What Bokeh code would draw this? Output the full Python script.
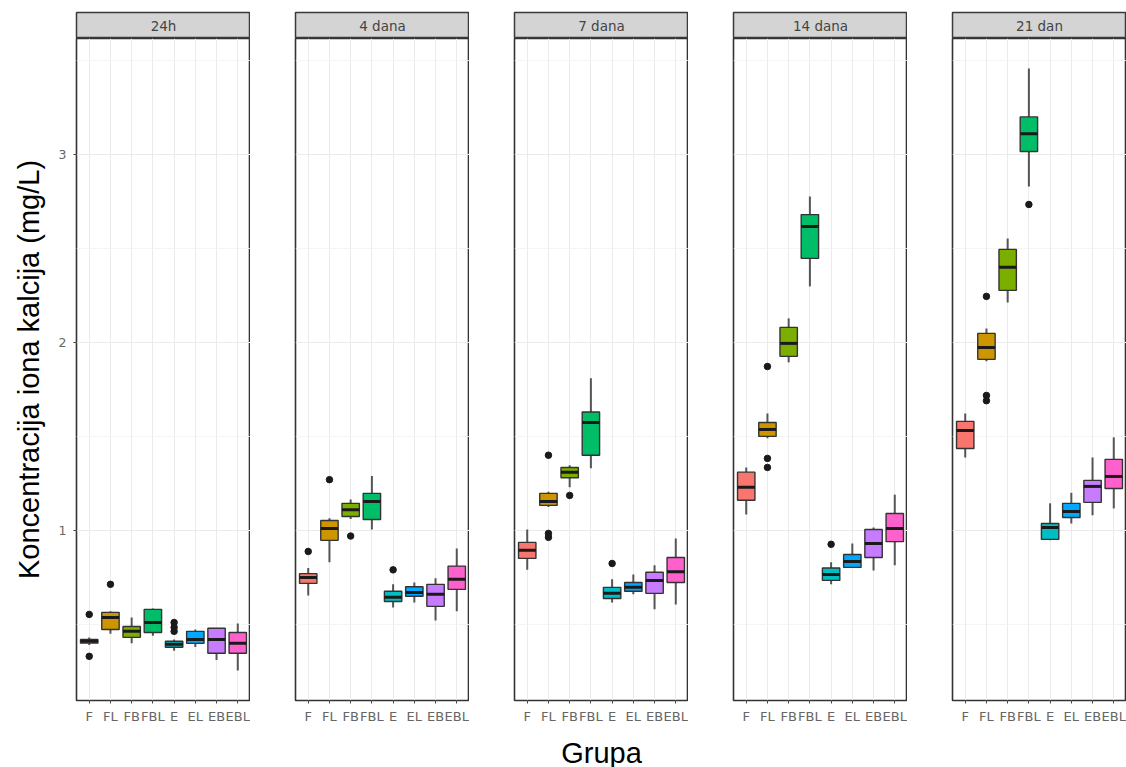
from bokeh.plotting import figure
from bokeh.layouts import gridplot
from bokeh.models import (ColumnDataSource, FactorRange, Range1d, FixedTicker, Grid)
from bokeh.transform import dodge
from bokeh.core.properties import value
from bokeh.embed import file_html
from bokeh.resources import INLINE

# Facets (time points) and groups
facets = ["24h", "4 dana", "7 dana", "14 dana", "21 dan"]
groups = ["F", "FL", "FB", "FBL", "E", "EL", "EB", "EBL"]
colors = ["#F8766D", "#CD9600", "#7CAE00", "#00BE67",
          "#00BFC4", "#00A9FF", "#C77CFF", "#FF61CC"]

# Box statistics, one row per facet, one value per group
whisker_low = [
    [0.39, 0.45, 0.40, 0.44, 0.36, 0.38, 0.31, 0.255],
    [0.654, 0.83, 1.06, 1.005, 0.59, 0.617, 0.52, 0.57],
    [0.79, 1.125, 1.23, 1.33, 0.617, 0.66, 0.58, 0.606],
    [1.085, 1.49, 1.894, 2.298, 0.713, 0.80, 0.787, 0.814],
    [1.388, 1.90, 2.213, 2.83, 0.947, 1.037, 1.08, 1.117],
]
q1 = [
    [0.40, 0.473, 0.431, 0.457, 0.378, 0.399, 0.346, 0.346],
    [0.718, 0.947, 1.074, 1.058, 0.622, 0.65, 0.596, 0.686],
    [0.851, 1.133, 1.28, 1.40, 0.638, 0.676, 0.665, 0.723],
    [1.16, 1.50, 1.926, 2.447, 0.734, 0.803, 0.856, 0.94],
    [1.436, 1.91, 2.277, 3.016, 0.952, 1.069, 1.149, 1.223],
]
median = [
    [0.41, 0.537, 0.463, 0.51, 0.394, 0.42, 0.42, 0.40],
    [0.75, 1.01, 1.11, 1.154, 0.644, 0.67, 0.66, 0.74],
    [0.894, 1.154, 1.31, 1.574, 0.665, 0.697, 0.734, 0.78],
    [1.229, 1.537, 1.995, 2.617, 0.766, 0.835, 0.93, 1.01],
    [1.532, 1.973, 2.40, 3.11, 1.016, 1.10, 1.234, 1.287],
]
q3 = [
    [0.42, 0.564, 0.489, 0.58, 0.41, 0.463, 0.479, 0.457],
    [0.77, 1.053, 1.144, 1.197, 0.676, 0.70, 0.713, 0.81],
    [0.936, 1.197, 1.335, 1.63, 0.697, 0.723, 0.777, 0.856],
    [1.31, 1.574, 2.08, 2.68, 0.80, 0.872, 1.005, 1.09],
    [1.58, 2.048, 2.495, 3.20, 1.037, 1.144, 1.266, 1.378],
]
whisker_high = [
    [0.43, 0.57, 0.537, 0.585, 0.42, 0.473, 0.48, 0.505],
    [0.80, 1.064, 1.165, 1.29, 0.713, 0.723, 0.745, 0.904],
    [1.005, 1.205, 1.346, 1.81, 0.74, 0.766, 0.814, 0.957],
    [1.335, 1.622, 2.128, 2.777, 0.83, 0.93, 1.016, 1.19],
    [1.622, 2.074, 2.553, 3.457, 1.144, 1.20, 1.388, 1.495],
]

# Outlying points
outlier_facet = ["24h", "24h", "24h", "24h", "24h", "24h",
                 "4 dana", "4 dana", "4 dana", "4 dana",
                 "7 dana", "7 dana", "7 dana", "7 dana", "7 dana",
                 "14 dana", "14 dana", "14 dana", "14 dana",
                 "21 dan", "21 dan", "21 dan", "21 dan"]
outlier_group = ["F", "F", "FL", "E", "E", "E",
                 "F", "FL", "FB", "E",
                 "FL", "FL", "FL", "FB", "E",
                 "FL", "FL", "FL", "E",
                 "FL", "FL", "FL", "FBL"]
outlier_value = [0.553, 0.33, 0.713, 0.51, 0.484, 0.463,
                 0.888, 1.27, 0.97, 0.79,
                 1.40, 0.984, 0.963, 1.186, 0.824,
                 1.872, 1.383, 1.335, 0.926,
                 2.245, 1.718, 1.69, 2.734]

y_ticks = [1, 2, 3]
y_minor = [0.5, 1.5, 2.5, 3.5]
y_limits = (0.095, 3.617)

FRAME_W = 174
TICK_FONT = value("DejaVu Sans")
TITLE_FONT = "Liberation Sans"
TICK_COLOR = "#666666"

strips, panels = [], []
for i, facet in enumerate(facets):
    left = 76 if i == 0 else 45

    # facet strip
    s = figure(frame_width=FRAME_W, frame_height=26,
               x_range=Range1d(0, 1), y_range=Range1d(0, 1),
               x_axis_location=None, y_axis_location=None,
               output_backend="svg", toolbar_location=None,
               min_border_left=left, min_border_right=0,
               min_border_top=12, min_border_bottom=0)
    s.grid.visible = False
    s.background_fill_color = "#D4D4D4"
    s.outline_line_color = "#3A3A3A"
    s.outline_line_width = 1.5
    s.text(x=[0.5], y=[0.5], text=[facet], text_align="center",
           text_baseline="middle", text_font=TICK_FONT,
           text_font_size="13.5px", text_color="#444444")
    strips.append(s)

    # boxplot panel
    p = figure(frame_width=FRAME_W, frame_height=662,
               x_range=FactorRange(factors=groups, range_padding=0.1,
                                   range_padding_units="absolute"),
               y_range=Range1d(*y_limits),
               y_axis_location="left" if i == 0 else None,
               output_backend="svg", toolbar_location=None,
               min_border_left=left, min_border_right=0,
               min_border_top=0, min_border_bottom=67)
    p.background_fill_color = "white"
    p.outline_line_color = "#333333"
    p.outline_line_width = 1.6

    for g in p.ygrid:
        g.visible = False
    yticker = FixedTicker(ticks=y_ticks, minor_ticks=y_minor)
    p.add_layout(Grid(dimension=1, ticker=yticker,
                      grid_line_color="#EBEBEB", grid_line_width=1.2,
                      minor_grid_line_color="#F2F2F2",
                      minor_grid_line_width=0.8), "center")
    p.xgrid.grid_line_color = "#EBEBEB"
    p.xgrid.grid_line_width = 1.0

    xa = p.xaxis[0]
    xa.axis_line_color = None
    xa.major_tick_out = 3
    xa.major_tick_in = 0
    xa.major_tick_line_color = "#444444"
    xa.major_label_standoff = 5
    xa.major_label_text_font = "DejaVu Sans"
    xa.major_label_text_font_size = "13px"
    xa.major_label_text_color = TICK_COLOR
    if i == 2:
        xa.axis_label = "Grupa"
        xa.axis_label_text_font = TITLE_FONT
        xa.axis_label_text_font_size = "29px"
        xa.axis_label_text_font_style = "normal"
        xa.axis_label_text_color = "#000000"
        xa.axis_label_standoff = 10

    if i == 0:
        ya = p.yaxis[0]
        ya.ticker = yticker
        ya.axis_line_color = None
        ya.major_tick_out = 3
        ya.major_tick_in = 0
        ya.minor_tick_out = 0
        ya.minor_tick_in = 0
        ya.major_tick_line_color = "#444444"
        ya.major_label_standoff = 7
        ya.major_label_text_font = "DejaVu Sans"
        ya.major_label_text_font_size = "12.5px"
        ya.major_label_text_color = TICK_COLOR
        ya.axis_label = "Koncentracija iona kalcija (mg/L)"
        ya.axis_label_text_font = TITLE_FONT
        ya.axis_label_text_font_size = "29px"
        ya.axis_label_text_font_style = "normal"
        ya.axis_label_text_color = "#000000"
        ya.axis_label_standoff = 11

    src = ColumnDataSource(dict(
        grp=groups, lo=whisker_low[i], q1=q1[i], med=median[i],
        q3=q3[i], hi=whisker_high[i], color=colors))

    # whiskers
    p.segment(x0="grp", y0="lo", x1="grp", y1="q1", source=src,
              line_color="#555555", line_width=2)
    p.segment(x0="grp", y0="q3", x1="grp", y1="hi", source=src,
              line_color="#555555", line_width=2)
    # boxes
    p.vbar(x="grp", bottom="q1", top="q3", width=0.82, source=src,
           fill_color="color", line_color="#333333", line_width=1.4)
    # medians
    p.segment(x0=dodge("grp", -0.41, range=p.x_range), y0="med",
              x1=dodge("grp", 0.41, range=p.x_range), y1="med",
              source=src, line_color="#1A1A1A", line_width=3)
    # outliers
    og = [g for g, f in zip(outlier_group, outlier_facet) if f == facet]
    ov = [v for v, f in zip(outlier_value, outlier_facet) if f == facet]
    p.scatter(x=og, y=ov, size=6.5, color="#1A1A1A")

    panels.append(p)

layout = gridplot([strips, panels], toolbar_location=None)

open("out.html", "w").write(file_html(layout, INLINE))
